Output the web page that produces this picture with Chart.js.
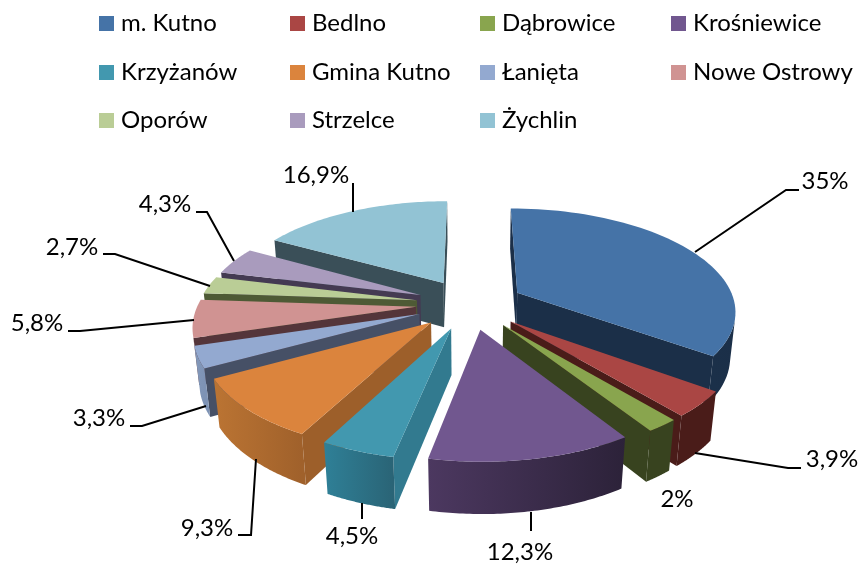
<!DOCTYPE html>
<html>
<head>
<meta charset="utf-8">
<style>
    html, body { margin: 0; padding: 0; background: #fff; }
    #wrap { width: 859px; height: 566px; }
</style>
<script src="https://cdn.jsdelivr.net/npm/chart.js@4"></script>
</head>
<body>
<div id="wrap"><canvas id="pie3d" width="859" height="566"></canvas></div>
<script>
var categories = ["m. Kutno", "Bedlno", "Dąbrowice", "Krośniewice", "Krzyżanów", "Gmina Kutno", "Łanięta", "Nowe Ostrowy", "Oporów", "Strzelce", "Żychlin"];
var values = [35, 3.9, 2, 12.3, 4.5, 9.3, 3.3, 5.8, 2.7, 4.3, 16.9];

var topColors = ["#4573a7", "#aa4644", "#89a54e", "#71578f", "#4298af", "#db843d", "#93a9d0", "#d09392", "#bacd96", "#a99bbd", "#92c3d4"];
var cutColors = ["#1b2f48", "#4a1c19", "#38431f", "#2e2339", "#327a8f", "#9d5f2a", "#465066", "#54353a", "#4e5a35", "#443a52", "#3a4f58"];
var wallFrom = ["#1b2f48", "#4a1c19", "#38431f", "#2c2239", "#2a6476", "#a0612b", "#7e93b5", "#8a5f5e", "#7b8a5f", "#6f6480", "#5f8a99"];
var wallTo = ["#1b3049", "#4a1c19", "#38431f", "#4c3860", "#2f8097", "#bb7433", "#8398ba", "#8a5f5e", "#7b8a5f", "#6f6480", "#5f8a99"];

// label text position, then the leader line from the slice to the label
var labelPos = [[825, 181], [832, 459], [677, 499], [520, 552], [352, 536], [207, 528], [99, 418], [37, 323], [72, 247], [165, 204], [316, 175]];
var leaders = [
    [[695, 252], [786, 190], [799, 190]],
    [[695, 453], [788, 468], [801, 468]],
    [],
    [[531, 512], [531, 531]],
    [[362, 503], [362, 519]],
    [[256, 459], [251, 535], [238, 535]],
    [[206, 406], [142, 426], [130, 426]],
    [[194, 320], [80, 331], [68, 331]],
    [[210, 286], [115, 254], [103, 254]],
    [[234, 261], [207, 212], [196, 212]],
    [[353, 212], [353, 183]]
];

var legendCols = [99, 290, 480, 671];
var legendRows = [16, 65, 113];

var explode = 54;
var wallHeight = 52;
var camDist = 1193;
var tilt = 27.7 * Math.PI / 180;

function pct(v) {
    return String(v).replace(".", ",") + "%";
}

function project(arc, x, y, z) {
    var w = camDist - y * Math.cos(tilt) - z * Math.sin(tilt);
    var s = camDist / w;
    return [arc.x + x * s, arc.y + (y * Math.sin(tilt) - z * Math.cos(tilt)) * s];
}

// true if a face through (x,y,z) with normal (nx,ny,0) looks at the camera
function faces(x, y, z, nx, ny) {
    var cy = camDist * Math.cos(tilt);
    return (x * nx + (y - cy) * ny) < 0;
}

function fillPoly(ctx, pts, fill) {
    ctx.beginPath();
    ctx.moveTo(pts[0][0], pts[0][1]);
    for (var i = 1; i < pts.length; i++) {
        ctx.lineTo(pts[i][0], pts[i][1]);
    }
    ctx.closePath();
    ctx.fillStyle = fill;
    ctx.fill();
}

function drawSlice(ctx, arc, i) {
    var a1 = arc.startAngle, a2 = arc.endAngle, r = arc.outerRadius;
    var mid = (a1 + a2) / 2;
    var ox = Math.cos(mid) * explode, oy = Math.sin(mid) * explode;
    var p1x = ox + Math.cos(a1) * r, p1y = oy + Math.sin(a1) * r;
    var p2x = ox + Math.cos(a2) * r, p2y = oy + Math.sin(a2) * r;

    // the two cut faces
    if (faces(ox, oy, 0, Math.sin(a1), -Math.cos(a1))) {
        fillPoly(ctx, [project(arc, ox, oy, 0), project(arc, p1x, p1y, 0), project(arc, p1x, p1y, -wallHeight), project(arc, ox, oy, -wallHeight)], cutColors[i]);
    }
    if (faces(ox, oy, 0, -Math.sin(a2), Math.cos(a2))) {
        fillPoly(ctx, [project(arc, ox, oy, 0), project(arc, p2x, p2y, 0), project(arc, p2x, p2y, -wallHeight), project(arc, ox, oy, -wallHeight)], cutColors[i]);
    }

    // outer wall, only the part turned to the camera
    var steps = 60, upper = [], lower = [], rim = [];
    for (var k = 0; k <= steps; k++) {
        var a = a1 + (a2 - a1) * k / steps;
        var x = ox + Math.cos(a) * r, y = oy + Math.sin(a) * r;
        rim.push(project(arc, x, y, 0));
        if (faces(x, y, 0, Math.cos(a), Math.sin(a))) {
            upper.push(project(arc, x, y, 0));
            lower.unshift(project(arc, x, y, -wallHeight));
        }
    }
    if (upper.length > 1) {
        var grad = ctx.createLinearGradient(upper[0][0], 0, upper[upper.length - 1][0], 0);
        grad.addColorStop(0, wallFrom[i]);
        grad.addColorStop(1, wallTo[i]);
        fillPoly(ctx, upper.concat(lower), grad);
    }

    // top face
    fillPoly(ctx, [project(arc, ox, oy, 0)].concat(rim), topColors[i]);
}

var pie3dPlugin = {
    id: "pie3d",
    beforeDatasetsDraw: function (chart) {
        var ctx = chart.ctx;
        var arcs = chart.getDatasetMeta(0).data;
        var order = arcs.map(function (a, i) { return i; });
        // back slices first
        order.sort(function (p, q) {
            return Math.sin((arcs[p].startAngle + arcs[p].endAngle) / 2) - Math.sin((arcs[q].startAngle + arcs[q].endAngle) / 2);
        });
        ctx.save();
        order.forEach(function (i) { drawSlice(ctx, arcs[i], i); });
        ctx.restore();
        return false;
    },
    afterDraw: function (chart) {
        var ctx = chart.ctx;
        ctx.save();
        ctx.font = "24px Lato";
        ctx.fillStyle = "#000";
        ctx.textBaseline = "alphabetic";
        ctx.textAlign = "left";
        categories.forEach(function (name, i) {
            var cx = legendCols[i % 4], cy = legendRows[Math.floor(i / 4)];
            ctx.fillStyle = topColors[i];
            ctx.fillRect(cx, cy, 15, 15);
            ctx.fillStyle = "#000";
            ctx.fillText(name, cx + 22, cy + 15);
        });

        ctx.strokeStyle = "#000";
        ctx.lineWidth = 2;
        leaders.forEach(function (line) {
            if (!line.length) return;
            ctx.beginPath();
            ctx.moveTo(line[0][0], line[0][1]);
            for (var k = 1; k < line.length; k++) {
                ctx.lineTo(line[k][0], line[k][1]);
            }
            ctx.stroke();
        });

        ctx.textAlign = "center";
        ctx.textBaseline = "middle";
        values.forEach(function (v, i) {
            ctx.fillText(pct(v), labelPos[i][0], labelPos[i][1]);
        });
        ctx.restore();
    }
};

new Chart(document.getElementById("pie3d"), {
    type: "pie",
    data: {
        labels: categories,
        datasets: [
            {
                data: values,
                backgroundColor: topColors,
                borderWidth: 0
            }
        ]
    },
    options: {
        responsive: false,
        animation: false,
        radius: 218,
        layout: { padding: { left: 81, top: 42 } },
        plugins: {
            legend: { display: false },
            tooltip: { enabled: false }
        }
    },
    plugins: [pie3dPlugin]
});
</script>
</body>
</html>
